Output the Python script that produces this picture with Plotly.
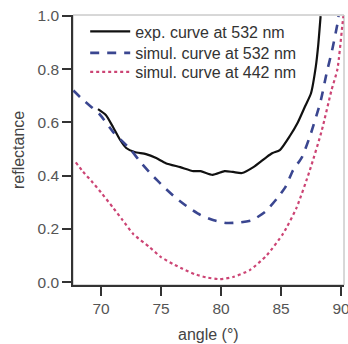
import plotly.graph_objects as go

# --- data ---
exp_angle = [69.75, 70.4, 71.0, 71.6, 72.1, 72.8, 73.75, 74.6, 75.4, 76.6, 77.7, 78.3,
             79.3, 80.3, 81.0, 81.75, 82.7, 83.8, 84.3, 84.9, 85.75, 86.4, 87.0, 87.5,
             87.9, 88.1, 88.3]
exp_532 = [0.65, 0.628, 0.583, 0.534, 0.504, 0.489, 0.481, 0.466, 0.447, 0.432, 0.417, 0.417,
           0.403, 0.417, 0.414, 0.41, 0.432, 0.47, 0.485, 0.496, 0.55, 0.60, 0.66, 0.71,
           0.81, 0.89, 1.0]

sim532_angle = [67.7, 68.5, 69.9, 71.0, 72.5, 73.4, 74.3, 75.3, 76.25, 77.3, 78.3, 79.4,
                80.5, 81.5, 82.6, 83.7, 84.7, 85.4, 86.0, 86.75, 87.5, 88.3, 88.8, 89.3,
                89.7, 89.8]
sim_532 = [0.72, 0.685, 0.63, 0.565, 0.496, 0.445, 0.40, 0.355, 0.316, 0.28, 0.252, 0.232,
           0.222, 0.224, 0.233, 0.265, 0.316, 0.36, 0.42, 0.47, 0.56, 0.68, 0.785, 0.88,
           0.97, 1.0]

sim442_angle = [67.9, 68.5, 69.2, 70.0, 71.0, 71.8, 72.7, 74.0, 75.0, 76.0, 76.8, 77.8,
                78.75, 79.9, 81.0, 82.4, 83.8, 85.2, 86.3, 87.4, 88.4, 89.2, 89.7, 90.1,
                90.2]
sim_442 = [0.45, 0.415, 0.38, 0.337, 0.28, 0.233, 0.18, 0.133, 0.094, 0.068, 0.05, 0.03,
           0.018, 0.011, 0.019, 0.045, 0.10, 0.184, 0.28, 0.42, 0.57, 0.72, 0.80, 0.96,
           1.0]

x_ticks = [70, 75, 80, 85, 90]
y_ticks = [0.0, 0.2, 0.4, 0.6, 0.8, 1.0]
y_tick_text = ["0.0", "0.2", "0.4", "0.6", "0.8", "1.0"]

FONT = "Liberation Sans, Arial, sans-serif"

fig = go.Figure()
fig.add_trace(go.Scatter(x=exp_angle, y=exp_532, mode="lines", name="exp. curve at 532 nm",
                         legend="legend",
                         line=dict(color="#111111", width=2.2, shape="spline", smoothing=0.6)))
fig.add_trace(go.Scatter(x=sim532_angle, y=sim_532, mode="lines", name="simul. curve at 532 nm",
                         legend="legend2",
                         line=dict(color="#3a4690", width=2.6, dash="9px,8px", shape="spline", smoothing=0.6)))
fig.add_trace(go.Scatter(x=sim442_angle, y=sim_442, mode="lines", name="simul. curve at 442 nm",
                         legend="legend3",
                         line=dict(color="#cc4474", width=2.2, dash="dot", shape="spline", smoothing=0.6)))

fig.add_shape(type="rect", xref="paper", yref="paper", x0=0, x1=1, y0=0, y1=1,
              line=dict(color="#b0b0b0", width=1), layer="below")

# axis titles as annotations (pixel placement)
fig.add_annotation(text="angle (°)", xref="paper", yref="paper", x=0.5, y=0,
                   xanchor="center", yanchor="middle", yshift=-49, showarrow=False,
                   font=dict(size=16, color="#444444"))
fig.add_annotation(text="reflectance", xref="paper", yref="paper", x=0, y=0.5,
                   xanchor="center", yanchor="middle", xshift=-55, textangle=-90,
                   showarrow=False, font=dict(size=16, color="#444444"))

leg_common = dict(x=0.045, xanchor="left", yanchor="middle", bgcolor="rgba(0,0,0,0)",
                  font=dict(size=16, color="#333333", family=FONT), itemwidth=40)

fig.update_layout(
    width=348, height=344,
    margin=dict(l=73, r=4, t=15, b=59),
    paper_bgcolor="white", plot_bgcolor="white",
    font=dict(family=FONT, size=15, color="#444444"),
    showlegend=True,
    legend=dict(y=0.9393, **leg_common),
    legend2=dict(y=0.8593, **leg_common),
    legend3=dict(y=0.7889, **leg_common),
    xaxis=dict(range=[67.667, 90.25], tickvals=x_ticks, ticks="outside", ticklen=9,
               tickwidth=1.5, tickcolor="#333333", showline=True, linecolor="#333333",
               linewidth=1.5, showgrid=False, zeroline=False, automargin=False,
               ticklabeloverflow="allow", tickfont=dict(size=15.5, color="#555555")),
    yaxis=dict(range=[-0.011, 1.004], tickvals=y_ticks, ticktext=y_tick_text, ticks="outside",
               ticklen=9, tickwidth=1.5, tickcolor="#333333", showline=True,
               linecolor="#333333", linewidth=1.5, showgrid=False, zeroline=False,
               automargin=False, tickfont=dict(size=15.5, color="#555555")),
)

fig.write_html("out.html", config={"displayModeBar": False},
               post_script="document.body.style.margin='0';document.body.style.overflow='hidden';")
